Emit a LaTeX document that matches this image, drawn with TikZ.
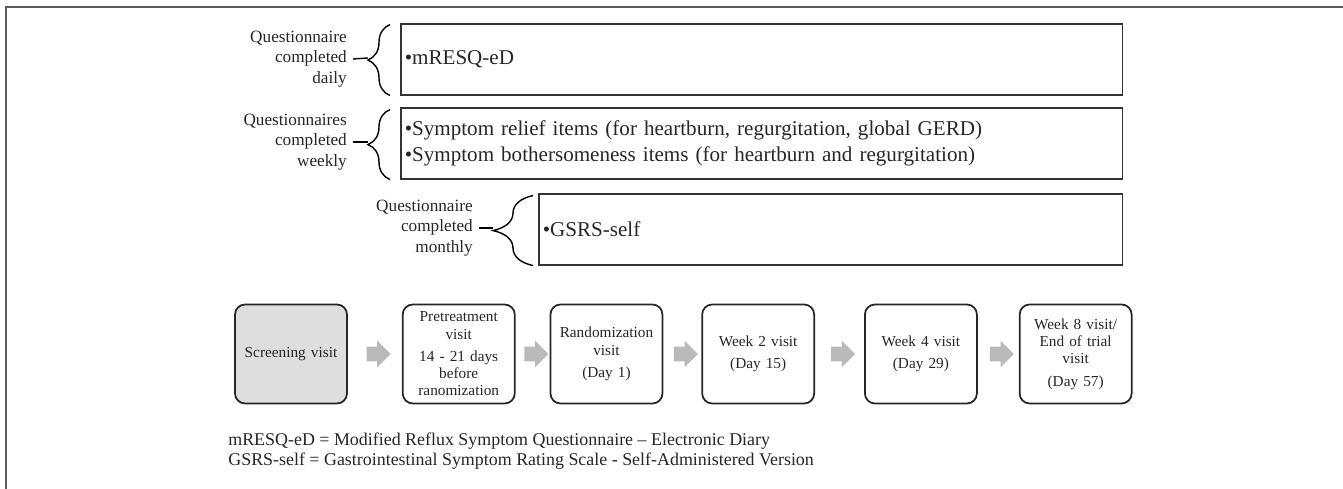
\documentclass[tikz,border=0pt]{standalone}
\usepackage{fontspec}
\setmainfont{Liberation Serif}
\usetikzlibrary{positioning, shapes.arrows, decorations.pathreplacing}

\begin{document}
\begin{tikzpicture}[x=0.02cm, y=-0.02cm,
    qbox/.style={draw=black!80, line width=0.9pt, anchor=north west, minimum height=1.42cm, align=left, inner xsep=0.08cm, font=\fontsize{12}{14.5}\selectfont},
    freq/.style={anchor=east, align=right, font=\fontsize{9.8}{11.5}\selectfont},
    curly/.style={decorate, decoration={brace, amplitude=#1}, line width=0.8pt},
    visit/.style={draw=black!85, line width=1pt, rounded corners=0.2cm, minimum width=2.24cm, minimum height=1.98cm, text width=2.0cm, inner xsep=0.12cm, align=center, font=\fontsize{8.7}{9.8}\selectfont},
    flow/.style={single arrow, fill=black!27, draw=none, minimum height=0.48cm, inner xsep=0pt, inner ysep=0.14cm, single arrow head extend=0.12cm},
    every node/.style={text=black!85}
    ]
    \useasboundingbox (0,0) rectangle (1343,489);

    % frame
    \draw[black!65, line width=1pt] (6,489) -- (6,7) -- (1343,7);

    % questionnaires
    \node[qbox, text width=14.28cm] (daily) at (400,23) {•mRESQ-eD};
    \node[qbox, text width=14.28cm] (weekly) at (400,107) {•Symptom relief items (for heartburn, regurgitation, global GERD)\\•Symptom bothersomeness items (for heartburn and regurgitation)};
    \node[qbox, text width=11.52cm] (monthly) at (538,193) {•GSRS-self};

    % labels and braces
    \node[freq] (ldaily) at (353,59) {Questionnaire\\completed\\daily};
    \node[freq] (lweekly) at (353,142) {Questionnaires\\completed\\weekly};
    \node[freq] (lmonthly) at (479,228) {Questionnaire\\completed\\monthly};
    \coordinate (tdaily) at (368,58);
    \coordinate (tweekly) at (368,142);
    \coordinate (tmonthly) at (493,228);
    \draw[curly=0.44cm] (daily.south west) ++(-10,0) -- ++(0,-71);
    \draw[curly=0.44cm] (weekly.south west) ++(-10,0) -- ++(0,-70);
    \draw[curly=0.8cm] (monthly.south west) ++(-5,0) -- ++(0,-70);
    \draw[line width=0.8pt] (ldaily.east) -- (tdaily);
    \draw[line width=0.8pt] (lweekly.east) -- (tweekly);
    \draw[line width=0.8pt] (lmonthly.east) -- (tmonthly);

    % visits
    \node[visit, fill=black!13] (screen) at (291,354) {Screening visit};
    \node[visit, right=1.08cm of screen] (pretreat) {Pretreatment\\visit\\[3pt]14 - 21 days\\before\\ranomization};
    \node[visit, right=0.68cm of pretreat] (random) {Randomization\\visit\\[3pt](Day 1)};
    \node[visit, right=0.76cm of random] (wtwo) {Week 2 visit\\[3pt](Day 15)};
    \node[visit, right=0.98cm of wtwo] (wfour) {Week 4 visit\\[3pt](Day 29)};
    \node[visit, right=0.82cm of wfour] (weight) {Week 8 visit/\\End of trial\\visit\\[3pt](Day 57)};

    % arrows
    \path (screen) -- node[flow] (a1) {} (pretreat);
    \path (pretreat) -- node[flow] (a2) {} (random);
    \path (random) -- node[flow] (a3) {} (wtwo);
    \path (wtwo) -- node[flow] (a4) {} (wfour);
    \path (wfour) -- node[flow] (a5) {} (weight);

    % abbreviations
    \node[anchor=north west, align=left, inner sep=0pt, font=\fontsize{10.2}{11}\selectfont] (note) at (228,433) {mRESQ-eD = Modified Reflux Symptom Questionnaire – Electronic Diary\\GSRS-self = Gastrointestinal Symptom Rating Scale - Self-Administered Version};
\end{tikzpicture}
\end{document}
